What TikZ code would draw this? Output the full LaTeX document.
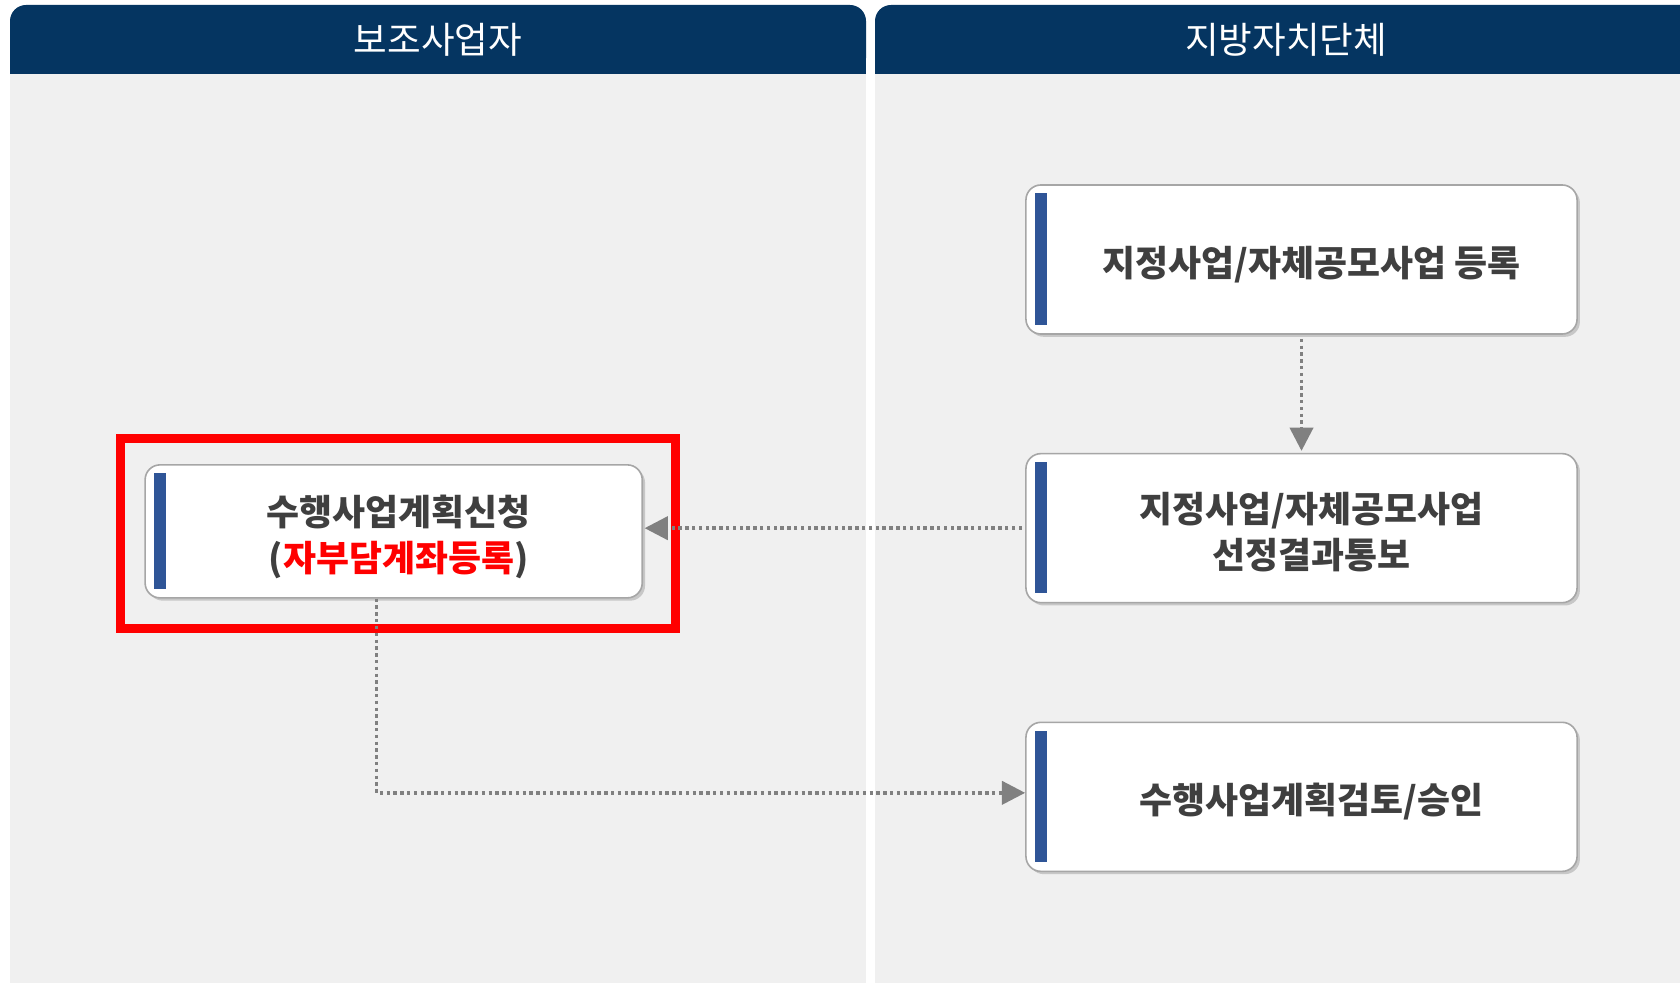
\documentclass[tikz,border=0pt]{standalone}
\usepackage{fontspec}
\setmainfont{Noto Sans CJK KR}
\usetikzlibrary{positioning,arrows.meta,calc,shadows}
\definecolor{navy}{HTML}{053561}
\definecolor{laneGray}{HTML}{F0F0F0}
\definecolor{barBlue}{HTML}{2F5597}
\definecolor{textGray}{HTML}{3F3F3F}
\definecolor{edgeGray}{HTML}{A6A6A6}
\definecolor{arrowGray}{HTML}{808080}
% lines of a box, moved right by #1 and a little down
\newcommand{\boxlines}[2]{\hspace*{#1}\raisebox{-0.2cm}[\height][\depth]{\begin{tabular}{@{}c@{}}#2\end{tabular}}}

\begin{document}
\begin{tikzpicture}[auto, x=0.025cm, y=-0.025cm, node distance=2.95cm]
% Styles of lanes and boxes:
\tikzset{%
  header/.style  = {fill=navy, rounded corners=0.4cm}, % lane title bar
  lane/.style    = {fill=laneGray},
  title/.style   = {text=white, font=\fontsize{26}{30}\selectfont},
  procbox/.style = {draw=edgeGray, line width=0.04cm, fill=white, rounded corners=0.375cm,
                    minimum width=13.775cm, minimum height=3.725cm,
                    text=textGray, font=\fontsize{25.5}{32.5}\selectfont\bfseries,
                    drop shadow={shadow xshift=0.07cm, shadow yshift=-0.07cm, fill=black!22, opacity=1}},
  flow/.style    = {draw=arrowGray, line width=0.085cm, dash pattern=on 0.085cm off 0.085cm,
                    -{Triangle[length=0.58cm, width=0.58cm]}}
}
\useasboundingbox (0,0) rectangle (1680,983);
\clip (0,0) rectangle (1680,983);
\fill[white] (0,0) rectangle (1680,983);

% lanes
\fill[header] (10,5) rectangle (866,74);
\fill[navy]   (10,40) rectangle (866,74);
\fill[lane]   (10,74) rectangle (866,983);
\fill[header] (875,5) rectangle (1710,74);
\fill[navy]   (875,40) rectangle (1710,74);
\fill[lane]   (875,74) rectangle (1710,983);
\node[title] (hdL) at (438,40) {보조사업자};
\node[title] (hdR) at (1286,40) {지방자치단체};

\draw
	node [procbox] (reg) at (1301.5,259.5) {\boxlines{0.5cm}{지정사업/자체공모사업 등록}}
	node [procbox, below = of reg] (sel) {\boxlines{0.5cm}{지정사업/자체공모사업\\선정결과통보}}
	node [procbox, below = of sel] (rev) {\boxlines{0.5cm}{수행사업계획검토/승인}}
	node [procbox, minimum width=12.425cm, minimum height=3.325cm, left = 9.55cm of sel, yshift=-0.08cm] (plan)
	     {\boxlines{0.25cm}{수행사업계획신청\\(\textcolor{red}{자부담계좌등록})}};

% blue bars on the left side of each box
\foreach \n in {reg,sel,rev,plan}
	\fill[barBlue] ($(\n.north west)+(10,9)$) rectangle ($(\n.south west)+(22,-10)$);

% highlight
\draw[red, line width=0.225cm] ($(plan.north west)+(-24,-26)$) rectangle ($(plan.south east)+(32,30)$);

\draw[flow, shorten <=0.1cm, shorten >=0.05cm] (reg) -- (sel);
\draw[flow, shorten <=0.08cm, shorten >=0.04cm] (sel.west) -- (plan.east |- sel.west);
\draw[flow] ([xshift=-0.425cm]plan.south) |- ([yshift=0.1cm]rev.west);
%
\end{tikzpicture}
\end{document}
